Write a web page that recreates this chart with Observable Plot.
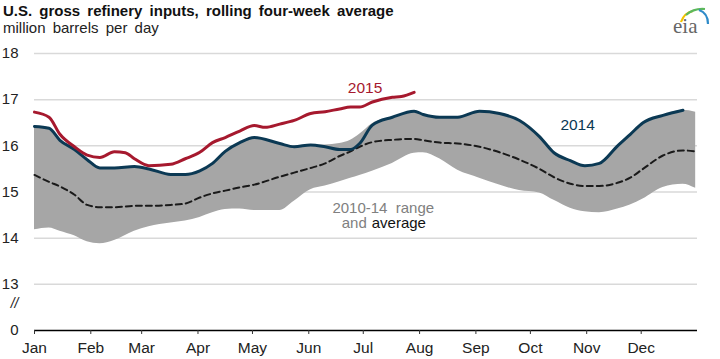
<!DOCTYPE html>
<html>
<head>
<meta charset="utf-8">
<script src="https://cdn.jsdelivr.net/npm/d3@7"></script>
<script src="https://cdn.jsdelivr.net/npm/@observablehq/plot@0.6"></script>
<style>
  body { margin: 0; background: #fff; }
  #wrap { position: relative; width: 720px; height: 359px; font-family: "Liberation Sans", Arial, sans-serif; }
  .title { position: absolute; left: 3px; top: 3px; font-size: 15px; line-height: 15px; font-weight: bold; color: #111; word-spacing: 3px; white-space: nowrap; }
  .subtitle { position: absolute; left: 3px; top: 20px; font-size: 15px; line-height: 15px; color: #222; word-spacing: 3px; white-space: nowrap; }
  #logo { position: absolute; left: 660px; top: 2px; }
</style>
</head>
<body>
<div id="wrap">
  <div class="title">U.S. gross refinery inputs, rolling four-week average</div>
  <div class="subtitle">million barrels per day</div>
  <svg id="logo" width="60" height="40" viewBox="660 2 60 40">
    <path d="M681,22 Q684,13 693,11" fill="none" stroke="#f2c300" stroke-width="2.2"/>
    <path d="M686,15 Q694,8 705,9" fill="none" stroke="#5cb85c" stroke-width="2.2"/>
    <path d="M699,10 Q708,13 708,24" fill="none" stroke="#2e8bc9" stroke-width="2.2"/>
    <text x="673" y="33" font-family="Liberation Serif, DejaVu Serif, serif" font-size="21" fill="#666">eia</text>
  </svg>
  <div id="chart"></div>
</div>
<script>
// Shared weekly-ish dates (month-day) for the 2010-14 band and average
const bandDates = ["01-01","01-09","01-15","01-23","01-30","02-06","02-14","02-25","03-05","03-17","03-25","04-02","04-09","04-16","04-24","05-02","05-16","05-24","06-02","06-10","06-18","06-24","06-29","07-06","07-17","07-29","08-03","08-12","08-22","09-03","09-14","09-25","10-06","10-14","10-23","10-31","11-08","11-18","11-25","12-02","12-13","12-24","12-31"];
const rangeHigh = [16.42,16.38,16.12,15.92,15.7,15.52,15.52,15.55,15.5,15.38,15.38,15.46,15.62,15.88,16.07,16.18,16.05,15.98,16.02,16.02,16.05,16.12,16.25,16.48,16.62,16.75,16.68,16.62,16.62,16.75,16.7,16.55,16.2,15.85,15.68,15.57,15.62,16.0,16.25,16.5,16.66,16.77,16.73];
const rangeLow = [14.18,14.22,14.15,14.05,13.92,13.88,13.95,14.15,14.25,14.33,14.37,14.45,14.55,14.62,14.63,14.6,14.6,14.8,15.05,15.13,15.22,15.3,15.36,15.45,15.62,15.84,15.85,15.72,15.47,15.3,15.15,15.03,14.98,14.82,14.65,14.57,14.55,14.63,14.72,14.85,15.1,15.17,15.08];
const average = [15.37,15.22,15.12,14.94,14.72,14.67,14.67,14.7,14.7,14.72,14.75,14.88,14.97,15.03,15.1,15.16,15.33,15.42,15.52,15.62,15.78,15.88,15.98,16.08,16.13,16.15,16.12,16.07,16.05,15.98,15.86,15.7,15.5,15.32,15.18,15.13,15.13,15.2,15.31,15.5,15.79,15.9,15.88];

const dates2014 = bandDates.slice(0, 42);
const values2014 = [16.42,16.38,16.12,15.92,15.7,15.52,15.52,15.55,15.5,15.38,15.38,15.46,15.62,15.88,16.07,16.18,16.05,15.98,16.02,15.98,15.92,15.92,16.05,16.45,16.62,16.75,16.68,16.62,16.62,16.75,16.7,16.55,16.2,15.85,15.68,15.57,15.62,16.0,16.25,16.5,16.66,16.77];

const dates2015 = ["01-01","01-09","01-15","01-23","01-30","02-06","02-14","02-20","02-25","03-05","03-17","03-25","04-02","04-09","04-16","04-24","05-02","05-08","05-16","05-24","06-02","06-10","06-18","06-24","06-29","07-06","07-17","07-22","07-29"];
const values2015 = [16.73,16.62,16.25,15.98,15.8,15.75,15.87,15.85,15.72,15.57,15.6,15.72,15.86,16.07,16.18,16.32,16.44,16.4,16.47,16.55,16.7,16.74,16.8,16.84,16.84,16.95,17.05,17.07,17.16];

const yTicks = [12, 13, 14, 15, 16, 17, 18];
const gridTicks = [13, 14, 15, 16, 17, 18];

const md = s => new Date(Date.UTC(2014, +s.slice(0, 2) - 1, +s.slice(3)));
const band = bandDates.map((d, i) => ({date: md(d), lo: rangeLow[i], hi: rangeHigh[i], avg: average[i]}));
const s2014 = dates2014.map((d, i) => ({date: md(d), v: values2014[i]}));
const s2015 = dates2015.map((d, i) => ({date: md(d), v: values2015[i]}));
const months = d3.utcMonth.range(new Date(Date.UTC(2014, 0, 1)), new Date(Date.UTC(2015, 0, 1)));

const RED = "#a6192e", NAVY = "#0b3954", GRAY = "#a6a6a6";

const chart = Plot.plot({
  width: 720,
  height: 359,
  marginTop: 53,
  marginBottom: 29,
  marginLeft: 34,
  marginRight: 23,
  style: {fontFamily: "Liberation Sans, Arial, sans-serif", fontSize: "15px", color: "#222", background: "transparent"},
  x: {type: "utc", domain: [new Date(Date.UTC(2014, 0, 1)), new Date(Date.UTC(2015, 0, 1))]},
  y: {domain: [12, 18]},
  marks: [
    Plot.gridY(gridTicks, {stroke: "#d9d9d9", strokeOpacity: 1, strokeWidth: 1.5}),
    Plot.areaY(band, {x: "date", y1: "lo", y2: "hi", fill: GRAY, curve: "monotone-x"}),
    Plot.line(band, {x: "date", y: "avg", stroke: "#1a1a1a", strokeWidth: 2, strokeDasharray: "6,4", curve: "monotone-x"}),
    Plot.line(s2014, {x: "date", y: "v", stroke: NAVY, strokeWidth: 3, curve: "monotone-x"}),
    Plot.line(s2015, {x: "date", y: "v", stroke: RED, strokeWidth: 3, curve: "monotone-x"}),
    Plot.ruleY([12], {stroke: "#000", strokeWidth: 1.5}),
    Plot.axisY(yTicks, {tickSize: 0, tickPadding: 16, tickFormat: d => d === 12 ? "0" : String(d), fontSize: 15, fill: "#222"}),
    Plot.text(["//"], {x: () => md("01-01"), y: () => 12.58, text: d => d, dx: -16, textAnchor: "end", fontSize: 14, fontStyle: "italic", fill: "#222"}),
    Plot.axisX(months, {tickSize: 4, tickPadding: 7, tickFormat: d3.utcFormat("%b"), fontSize: 15.5, stroke: "#333", fill: "#222"}),
    Plot.text(["2015"], {x: () => md("07-02"), y: () => 17.25, text: d => d, fill: RED, fontSize: 15.5}),
    Plot.text(["2014"], {x: () => md("10-27"), y: () => 16.46, text: d => d, fill: NAVY, fontSize: 15.5}),
    Plot.text(["2010-14  range"], {x: () => md("07-12"), y: () => 14.66, text: d => d, fill: "#808080", fontSize: 15}),
    Plot.text(["and"], {x: () => md("07-04"), y: () => 14.32, text: d => d, fill: "#808080", fontSize: 15, textAnchor: "end", dx: -2}),
    Plot.text(["average"], {x: () => md("07-04"), y: () => 14.32, text: d => d, fill: "#111", fontSize: 15, textAnchor: "start", dx: 3})
  ]
});
document.getElementById("chart").appendChild(chart);
</script>
</body>
</html>
